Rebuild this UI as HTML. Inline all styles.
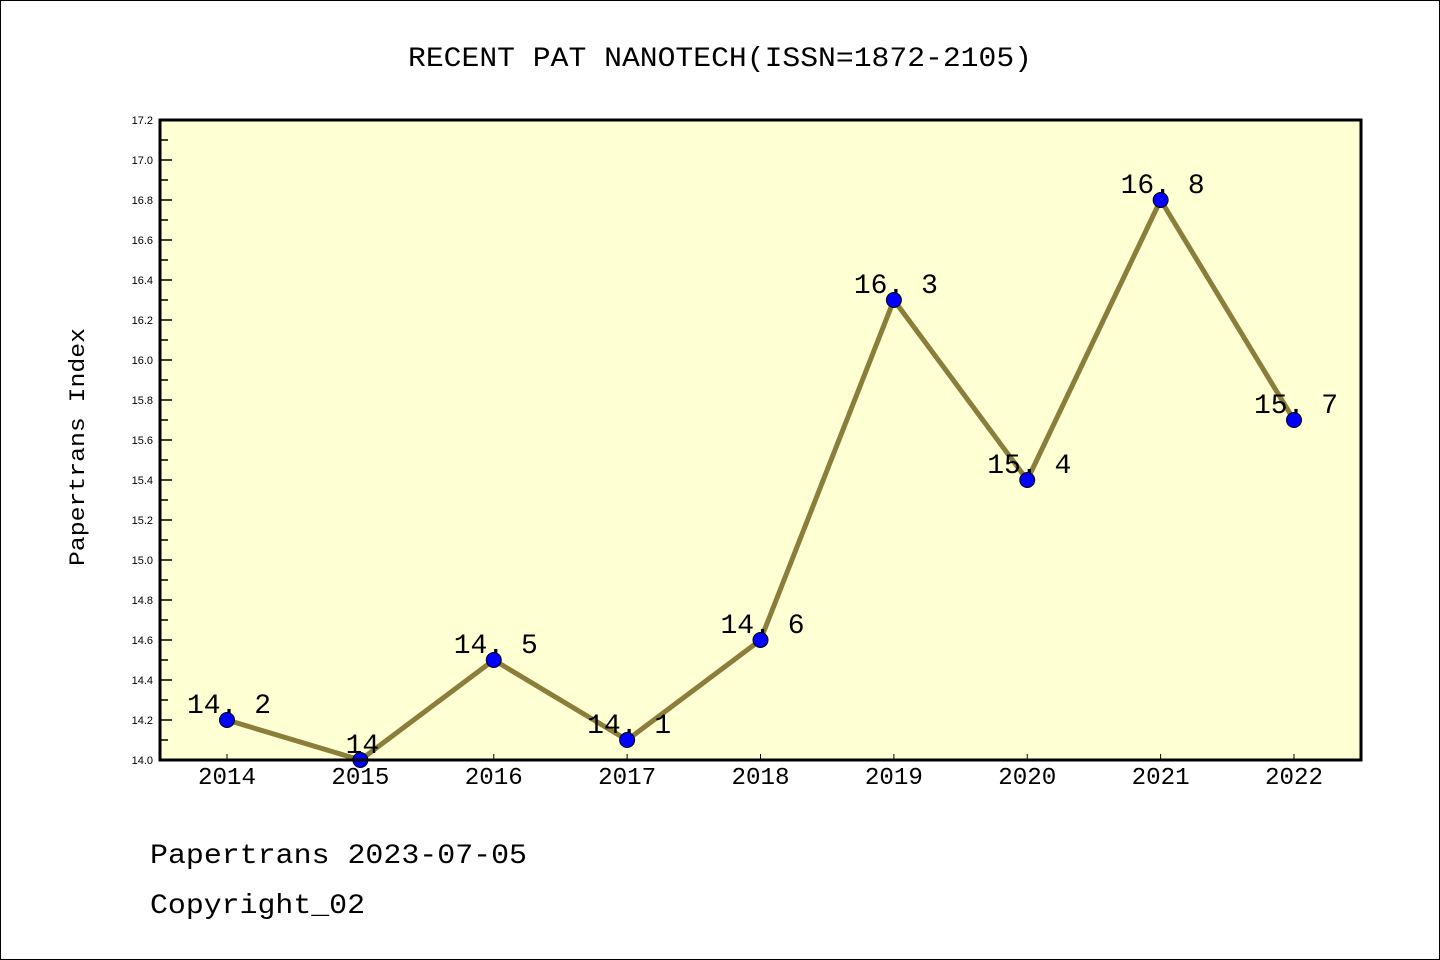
<!DOCTYPE html>
<html><head><meta charset="utf-8"><style>body{margin:0;background:#fff}svg{display:block}</style></head>
<body>
<svg id="chart" width="1440" height="960" xmlns="http://www.w3.org/2000/svg" font-family="'Liberation Mono','DejaVu Sans Mono',monospace">
<rect x="0.5" y="0.5" width="1439" height="959" fill="#fff" stroke="#000"/>
<text x="408" y="66" font-size="28" textLength="624" lengthAdjust="spacingAndGlyphs">RECENT PAT NANOTECH(ISSN=1872-2105)</text>
<rect x="160" y="120" width="1201" height="640" fill="#ffffd4"/>
<g id="ticks"></g>
<g id="series"></g>
<rect x="160" y="120" width="1201" height="640" fill="none" stroke="#000" stroke-width="3"/>
<text transform="translate(84,566) rotate(-90)" font-size="22" textLength="238" lengthAdjust="spacingAndGlyphs">Papertrans Index</text>
<text x="150" y="863" font-size="28" textLength="377" lengthAdjust="spacingAndGlyphs">Papertrans 2023-07-05</text>
<text x="150" y="913" font-size="28" textLength="215" lengthAdjust="spacingAndGlyphs">Copyright_02</text>
</svg>
<script>
const years = ['2014','2015','2016','2017','2018','2019','2020','2021','2022'];
const values = [14.2, 14.0, 14.5, 14.1, 14.6, 16.3, 15.4, 16.8, 15.7];
const valueLabels = ['14.2','14','14.5','14.1','14.6','16.3','15.4','16.8','15.7'];
const yTicks = ['14.0','14.2','14.4','14.6','14.8','15.0','15.2','15.4','15.6','15.8','16.0','16.2','16.4','16.6','16.8','17.0','17.2'];
const NS='http://www.w3.org/2000/svg';
const yMin=14.0,yMax=17.2,plotTop=120,plotBot=760;
const yS=v=>plotBot-(v-yMin)/(yMax-yMin)*(plotBot-plotTop);
const xS=i=>227+i*(1294-227)/(years.length-1);
function mk(t,a,p){const e=document.createElementNS(NS,t);for(const k in a)e.setAttribute(k,a[k]);p.appendChild(e);return e;}
const tg=document.getElementById('ticks'), sg=document.getElementById('series');
yTicks.forEach((t,i)=>{
  const v=parseFloat(t), yy=yS(v);
  const l=mk('line',{x1:160,x2:172,y1:yy,y2:yy,stroke:'#000','stroke-width':1.5},tg);
  
  
  const tx=mk('text',{x:153,y:yy+4,'text-anchor':'end','font-size':11,'font-family':'Liberation Sans,sans-serif'},tg);
  tx.textContent=t;
  
  
  if(i<yTicks.length-1){const m=yS(v+0.1);
    const ml=mk('line',{x1:160,x2:168,y1:m,y2:m,stroke:'#000','stroke-width':1.5},tg);
    
    }
});
years.forEach((yr,i)=>{
  const l=mk('line',{x1:xS(i),x2:xS(i),y1:plotBot,y2:plotBot-6,stroke:'#000','stroke-width':1},tg);
  
  
  const tx=mk('text',{x:xS(i),y:784,'text-anchor':'middle','font-size':24,textLength:58,lengthAdjust:'spacingAndGlyphs'},tg);
  tx.textContent=yr;
  
  
});
const pl=mk('polyline',{points:values.map((v,i)=>xS(i)+','+yS(v)).join(' '),fill:'none',stroke:'#8b7d3a','stroke-width':5,'stroke-linejoin':'round'},sg);


values.forEach((v,i)=>{
  const c=mk('circle',{cx:xS(i),cy:yS(v),r:7.5,fill:'#0000ff',stroke:'#000','stroke-width':1},sg);
  
  
  const t=mk('text',{x:xS(i)+2,y:yS(v)-7,'text-anchor':'middle','font-size':28},sg);
  t.textContent=valueLabels[i].replace('.','. ');
  
  
});
</script>
</body></html>
